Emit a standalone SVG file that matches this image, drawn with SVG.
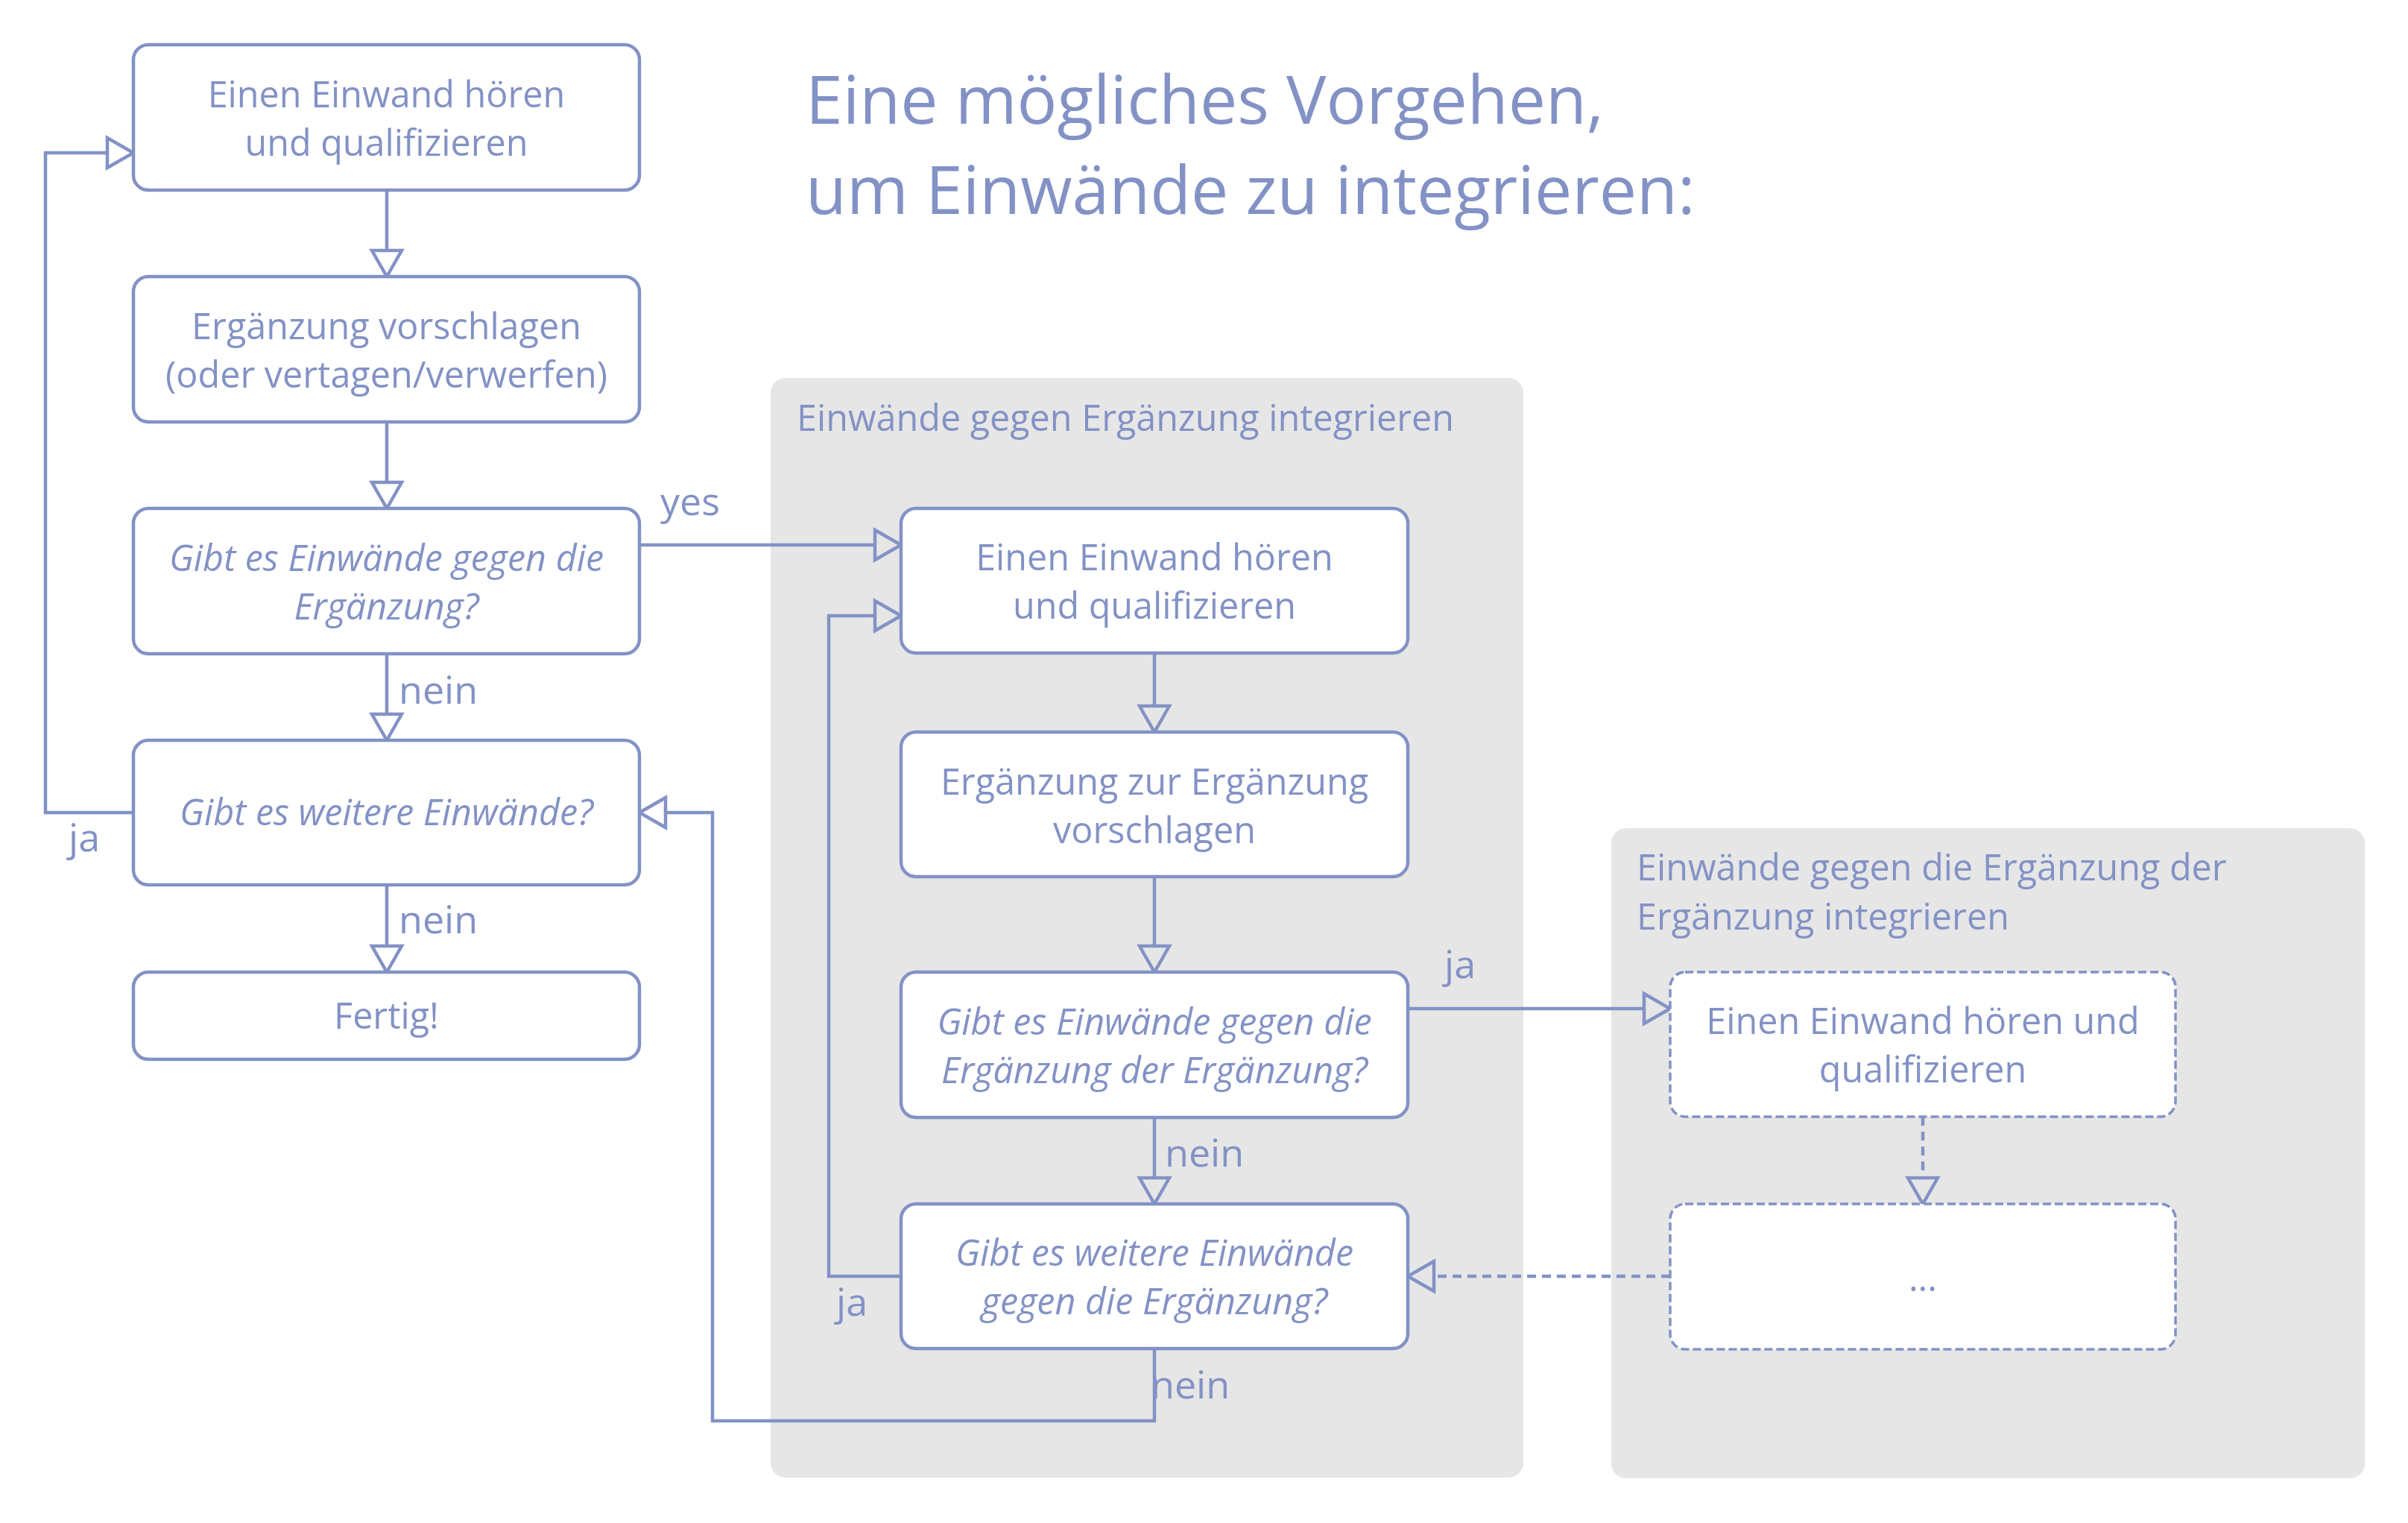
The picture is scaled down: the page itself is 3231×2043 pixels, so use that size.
<svg xmlns="http://www.w3.org/2000/svg" width="3231" height="2043" viewBox="0 0 3231 2043">
<defs>
<marker id="arr" markerUnits="userSpaceOnUse" markerWidth="40" markerHeight="44" refX="0" refY="20" orient="auto" overflow="visible">
<path d="M0,0 L35,20 L0,40 Z" fill="none" stroke="#8392C5" stroke-width="4.5" stroke-linejoin="miter"/>
</marker>
<style>
.bg{fill:#E6E6E6;}
.box{fill:#FFFFFF;stroke:#8392C5;stroke-width:4.5;}
.dbox{fill:#FFFFFF;stroke:#8392C5;stroke-width:3.5;stroke-dasharray:11 5;}
.t{font-family:"Open Sans","Liberation Sans",sans-serif;font-size:48.5px;fill:#8392C5;}
.l{font-family:"Open Sans","Liberation Sans",sans-serif;font-size:52px;fill:#8392C5;}
.c{text-anchor:middle;}
.i{font-style:italic;}
.title{font-family:"Open Sans","Liberation Sans",sans-serif;font-size:89.5px;fill:#8392C5;}
.e{fill:none;stroke:#8392C5;stroke-width:4.5;marker-end:url(#arr);}
.ed{fill:none;stroke:#8392C5;stroke-width:4.5;stroke-dasharray:12 8;marker-end:url(#arr);}
</style>
</defs>
<rect width="3231" height="2043" fill="#FFFFFF"/>

<g id="title">
<text class="title" x="1081" y="166">Eine mögliches Vorgehen,</text>
<text class="title" x="1081" y="287">um Einwände zu integrieren:</text>
</g>

<g id="group1">
<rect class="bg" x="1034" y="507" width="1010" height="1475" rx="20"/>
<text class="t" x="1069" y="578">Einwände gegen Ergänzung integrieren</text>
</g>
<g id="group2">
<rect class="bg" x="2162" y="1111" width="1011" height="872" rx="20"/>
<text class="t" x="2196" y="1181">Einwände gegen die Ergänzung der</text>
<text class="t" x="2196" y="1247">Ergänzung integrieren</text>
</g>

<g id="connectors">
<path class="e" d="M519,255 L519,336"/>
<path class="e" d="M519,566 L519,647"/>
<path class="e" d="M519,877 L519,958"/>
<path class="e" d="M519,1187 L519,1269"/>
<path class="e" d="M179,1090 L61,1090 L61,205 L144,205"/>
<path class="e" d="M858,731 L1174,731"/>
<path class="e" d="M1549,876 L1549,947"/>
<path class="e" d="M1549,1176 L1549,1269"/>
<path class="e" d="M1549,1499 L1549,1580"/>
<path class="e" d="M1209,1712 L1112,1712 L1112,826 L1174,826"/>
<path class="e" d="M1549,1809 L1549,1906 L956,1906 L956,1090 L893,1090"/>
<path class="e" d="M1889,1353 L2206,1353"/>
<path class="ed" d="M2580,1498 L2580,1580"/>
<path class="ed" d="M2241,1712 L1924,1712"/>
<text class="l" x="886" y="691">yes</text>
<text class="l" x="535" y="944">nein</text>
<text class="l" x="535" y="1252">nein</text>
<text class="l" x="92" y="1142">ja</text>
<text class="l" x="1938" y="1312">ja</text>
<text class="l" x="1563" y="1565">nein</text>
<text class="l" x="1122" y="1765">ja</text>
<text class="l" x="1544" y="1876">nein</text>
</g>

<g id="lb1">
<rect class="box" x="179" y="60" width="679" height="195" rx="20"/>
<text class="t c" x="518.5" y="144">Einen Einwand hören</text>
<text class="t c" x="518.5" y="209">und qualifizieren</text>
</g>
<g id="lb2">
<rect class="box" x="179" y="371" width="679" height="195" rx="20"/>
<text class="t c" x="518.5" y="455">Ergänzung vorschlagen</text>
<text class="t c" x="518.5" y="520">(oder vertagen/verwerfen)</text>
</g>
<g id="lb3">
<rect class="box" x="179" y="682" width="679" height="195" rx="20"/>
<text class="t c i" x="518.5" y="766">Gibt es Einwände gegen die</text>
<text class="t c i" x="518.5" y="831">Ergänzung?</text>
</g>
<g id="lb4">
<rect class="box" x="179" y="993" width="679" height="194" rx="20"/>
<text class="t c i" x="518.5" y="1107">Gibt es weitere Einwände?</text>
</g>
<g id="lb5">
<rect class="box" x="179" y="1304" width="679" height="117" rx="20"/>
<text class="t c" x="518.5" y="1380">Fertig!</text>
</g>

<g id="ib1">
<rect class="box" x="1209" y="682" width="680" height="194" rx="20"/>
<text class="t c" x="1549" y="765">Einen Einwand hören</text>
<text class="t c" x="1549" y="830">und qualifizieren</text>
</g>
<g id="ib2">
<rect class="box" x="1209" y="982" width="680" height="194" rx="20"/>
<text class="t c" x="1549" y="1066">Ergänzung zur Ergänzung</text>
<text class="t c" x="1549" y="1131">vorschlagen</text>
</g>
<g id="ib3">
<rect class="box" x="1209" y="1304" width="680" height="195" rx="20"/>
<text class="t c i" x="1549" y="1388">Gibt es Einwände gegen die</text>
<text class="t c i" x="1549" y="1453">Ergänzung der Ergänzung?</text>
</g>
<g id="ib4">
<rect class="box" x="1209" y="1615" width="680" height="194" rx="20"/>
<text class="t c i" x="1549" y="1698">Gibt es weitere Einwände</text>
<text class="t c i" x="1549" y="1763">gegen die Ergänzung?</text>
</g>

<g id="db1">
<rect class="dbox" x="2241" y="1304" width="678" height="194" rx="20"/>
<text class="t c" x="2580" y="1387">Einen Einwand hören und</text>
<text class="t c" x="2580" y="1452">qualifizieren</text>
</g>
<g id="db2">
<rect class="dbox" x="2241" y="1615" width="678" height="195" rx="20"/>
<text class="t c" x="2580" y="1732">...</text>
</g>
</svg>
